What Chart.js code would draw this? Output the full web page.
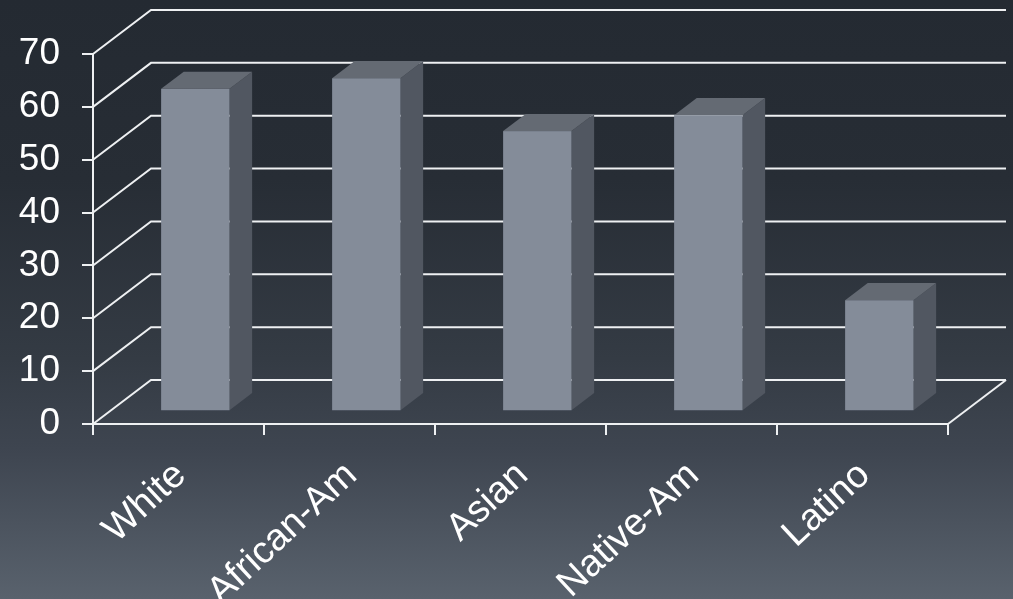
<!DOCTYPE html>
<html>
<head>
<meta charset="utf-8">
<script src="https://cdn.jsdelivr.net/npm/chart.js@4.4.1/dist/chart.umd.min.js"></script>
<style>
  html, body { margin: 0; padding: 0; overflow: hidden; background: #262c34; }
  #wrap { position: relative; width: 1013px; height: 599px; }
</style>
</head>
<body>
<div id="wrap"><canvas id="chart"></canvas></div>
<script>
// Chart data
const categories = ['White', 'African-Am', 'Asian', 'Native-Am', 'Latino'];
const values = [61, 63, 53, 56, 21];
const yTickValues = [0, 10, 20, 30, 40, 50, 60, 70];

// Oblique projection of the 3D box: offset of the back wall from the front plane
const DEPTH_X = 58;
const DEPTH_Y = -44;
// Bars sit between these fractions of the floor depth
const BAR_FRONT = 0.29;
const BAR_BACK = 0.68;

const LINE_COLOR = '#eef0f2';
const FONT_FAMILY = '"Liberation Sans", Arial, sans-serif';

const depthPlugin = {
  id: 'depth3d',
  beforeDraw(chart) {
    const { ctx, width, height } = chart;
    const g = ctx.createLinearGradient(0, 0, 0, height);
    g.addColorStop(0, '#242a32');
    g.addColorStop(0.3, '#272d35');
    g.addColorStop(0.6, '#343b44');
    g.addColorStop(0.75, '#3e4550');
    g.addColorStop(1, '#59626d');
    ctx.save();
    ctx.fillStyle = g;
    ctx.fillRect(0, 0, width, height);
    ctx.restore();
  },
  beforeDatasetsDraw(chart) {
    const { ctx, chartArea } = chart;
    const yScale = chart.scales.y;
    const left = chartArea.left;
    const right = chartArea.right;
    ctx.save();
    ctx.strokeStyle = LINE_COLOR;
    ctx.lineWidth = 2;
    ctx.lineCap = 'butt';
    yTickValues.forEach(v => {
      const py = yScale.getPixelForValue(v);
      ctx.beginPath();
      // side wall diagonal
      ctx.moveTo(left, py);
      ctx.lineTo(left + DEPTH_X, py + DEPTH_Y);
      // back wall gridline
      ctx.lineTo(right + DEPTH_X, py + DEPTH_Y);
      ctx.stroke();
    });
    // right edge of the floor
    const py0 = yScale.getPixelForValue(0);
    ctx.beginPath();
    ctx.moveTo(right, py0);
    ctx.lineTo(right + DEPTH_X, py0 + DEPTH_Y);
    ctx.stroke();
    ctx.restore();
  },
  afterDatasetsDraw(chart) {
    const { ctx } = chart;
    const meta = chart.getDatasetMeta(0);
    const fx = BAR_FRONT * DEPTH_X, fy = BAR_FRONT * DEPTH_Y;
    const dX = (BAR_BACK - BAR_FRONT) * DEPTH_X;
    const dY = (BAR_BACK - BAR_FRONT) * DEPTH_Y;
    ctx.save();
    meta.data.forEach(bar => {
      const { x, y, base, width } = bar.getProps(['x', 'y', 'base', 'width'], true);
      const l = x - width / 2 + fx;
      const r = x + width / 2 + fx;
      const t = y + fy;
      const b = base + fy;
      // side face
      ctx.fillStyle = '#515761';
      ctx.beginPath();
      ctx.moveTo(r, t);
      ctx.lineTo(r + dX, t + dY);
      ctx.lineTo(r + dX, b + dY);
      ctx.lineTo(r, b);
      ctx.closePath();
      ctx.fill();
      // top face
      ctx.fillStyle = '#646a73';
      ctx.beginPath();
      ctx.moveTo(l, t);
      ctx.lineTo(l + dX, t + dY);
      ctx.lineTo(r + dX, t + dY);
      ctx.lineTo(r, t);
      ctx.closePath();
      ctx.fill();
      // front face
      ctx.fillStyle = '#848c99';
      ctx.fillRect(l, t, r - l, b - t);
    });
    ctx.restore();
  }
};

new Chart(document.getElementById('chart'), {
  type: 'bar',
  data: {
    labels: categories,
    datasets: [{
      data: values,
      backgroundColor: 'rgba(0,0,0,0)',
      borderWidth: 0,
      categoryPercentage: 1,
      barPercentage: 0.4
    }]
  },
  options: {
    responsive: true,
    maintainAspectRatio: false,
    devicePixelRatio: 1,
    animation: false,
    layout: { padding: { top: 54, right: 65, left: 0, bottom: 0 } },
    plugins: { legend: { display: false }, tooltip: { enabled: false } },
    scales: {
      x: {
        offset: true,
        grid: {
          display: true, offset: true, drawOnChartArea: false, drawTicks: true,
          tickLength: 11, color: LINE_COLOR, lineWidth: 2
        },
        border: { display: true, color: LINE_COLOR, width: 2 },
        ticks: {
          color: '#ffffff', font: { family: FONT_FAMILY, size: 38 }, autoSkip: false,
          minRotation: 43, maxRotation: 43, padding: 18, labelOffset: 2
        },
        afterFit(scale) { scale.height = 175; }
      },
      y: {
        min: 0, max: 70,
        grid: {
          display: true, drawOnChartArea: false, drawTicks: true,
          tickLength: 11, color: LINE_COLOR, lineWidth: 2
        },
        border: { display: true, color: LINE_COLOR, width: 2 },
        ticks: { stepSize: 10, color: '#ffffff', font: { family: FONT_FAMILY, size: 37 }, padding: 22 },
        afterFit(scale) { scale.width = 93; }
      }
    }
  },
  plugins: [depthPlugin]
});
</script>
</body>
</html>
